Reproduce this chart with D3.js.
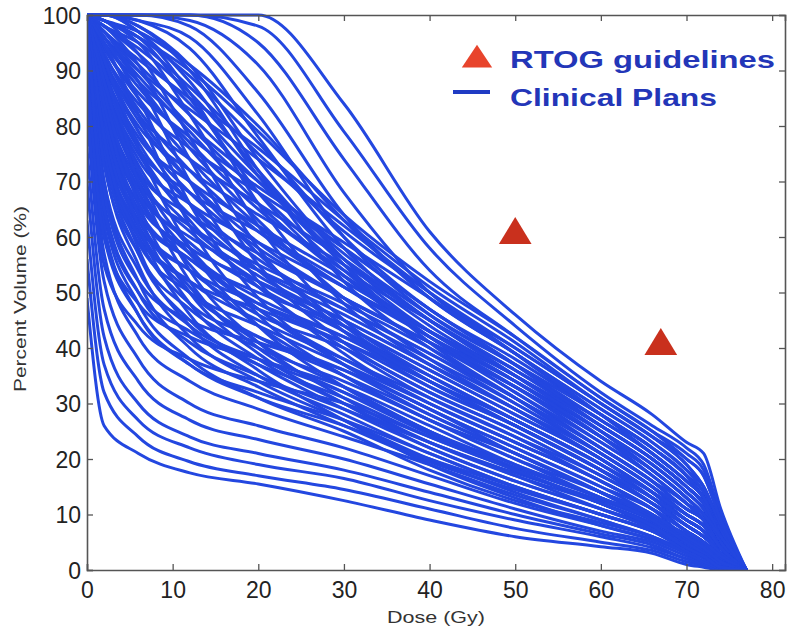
<!DOCTYPE html>
<html>
<head>
<meta charset="utf-8">
<script src="https://cdn.jsdelivr.net/npm/d3@7"></script>
<style>
  body { margin: 0; background: #fff; }
  svg { display: block; }
  text { font-family: "Liberation Sans", Arial, sans-serif; }
</style>
</head>
<body>
<div id="my_dataviz"></div>
<script>
// dose grid (Gy) shared by every DVH curve
const doses = [0, 2, 6, 12, 20, 30, 40, 50, 60, 66, 70, 72, 74, 77]

// percent volume of each clinical plan at the doses above
const plans = [
  // late falling plans (upper edge of the bundle)
  [100, 100, 100, 100, 100, 84, 61, 46, 34, 28, 23, 21, 11, 0],
  [100, 100, 100, 100, 98, 79, 58, 44, 32, 26, 22, 19, 10, 0],
  [100, 100, 100, 100, 95, 74, 54, 42, 31, 25, 21, 18, 9, 0],
  [100, 100, 100, 99, 91, 68, 50, 40, 30, 24, 20, 17, 9, 0],
  [100, 100, 100, 98, 86, 64, 49, 39, 29, 23, 18, 15, 8, 0],
  [100, 100, 99, 96, 82, 60, 46, 37, 28, 22, 17, 14, 7, 0],
  [100, 100, 99, 94, 78, 58, 45, 36, 27, 21, 16, 13, 7, 0],
  [100, 100, 98, 91, 74, 56, 44, 35, 26, 20, 15, 12, 6, 0],
  [100, 100, 97, 88, 71, 55, 43, 34, 25, 19, 14, 11, 6, 0],
  [100, 99, 96, 85, 68, 53, 42, 33, 24, 18, 13, 10, 5, 0],
  // middle of the bundle
  [100, 99, 97, 91, 80, 63, 49, 39, 29, 23, 18, 14, 7, 0],
  [100, 99, 96, 89, 77, 60, 47, 38, 28, 22, 17, 13, 7, 0],
  [100, 98, 95, 87, 75, 61, 50, 40, 30, 24, 19, 15, 8, 0],
  [100, 98, 93, 84, 71, 57, 46, 37, 28, 22, 17, 13, 7, 0],
  [100, 97, 92, 85, 76, 63, 51, 41, 30, 24, 19, 15, 8, 0],
  [100, 97, 91, 82, 70, 56, 45, 36, 27, 21, 16, 13, 6, 0],
  [100, 96, 90, 83, 74, 62, 50, 39, 28, 22, 17, 13, 7, 0],
  [100, 96, 89, 79, 66, 53, 43, 35, 26, 20, 15, 12, 6, 0],
  [100, 95, 88, 80, 70, 58, 47, 37, 27, 21, 16, 13, 6, 0],
  [100, 95, 87, 77, 65, 54, 45, 36, 26, 20, 15, 12, 6, 0],
  [100, 94, 86, 78, 69, 59, 49, 39, 28, 21, 16, 13, 6, 0],
  [100, 94, 85, 74, 62, 51, 42, 34, 25, 19, 14, 11, 5, 0],
  [100, 93, 84, 76, 68, 58, 47, 37, 26, 20, 15, 12, 6, 0],
  [100, 93, 83, 72, 61, 51, 43, 35, 26, 20, 15, 12, 6, 0],
  [100, 92, 82, 74, 66, 56, 45, 35, 25, 19, 14, 11, 5, 0],
  [100, 92, 81, 70, 59, 49, 41, 33, 24, 18, 13, 10, 5, 0],
  [100, 91, 80, 72, 64, 55, 45, 35, 25, 18, 13, 10, 5, 0],
  [100, 91, 79, 68, 58, 49, 41, 33, 24, 18, 13, 10, 5, 0],
  [100, 90, 78, 70, 62, 53, 43, 34, 24, 18, 13, 10, 5, 0],
  [100, 90, 77, 66, 56, 47, 39, 31, 22, 16, 11, 9, 4, 0],
  [100, 89, 76, 68, 61, 52, 43, 34, 24, 17, 12, 9, 4, 0],
  [100, 88, 75, 64, 54, 46, 38, 30, 21, 15, 10, 8, 4, 0],
  [100, 88, 74, 66, 59, 51, 42, 33, 23, 17, 12, 9, 4, 0],
  [100, 87, 73, 62, 53, 45, 37, 29, 20, 14, 10, 8, 4, 0],
  [100, 86, 72, 64, 57, 49, 41, 32, 22, 16, 11, 9, 4, 0],
  [100, 86, 71, 61, 52, 44, 36, 28, 20, 14, 9, 7, 3, 0],
  [100, 85, 70, 62, 55, 48, 40, 31, 22, 16, 11, 9, 4, 0],
  [100, 84, 69, 59, 51, 43, 35, 27, 19, 13, 9, 7, 3, 0],
  [100, 84, 68, 60, 54, 47, 39, 30, 21, 15, 10, 8, 4, 0],
  [100, 83, 67, 57, 49, 42, 34, 27, 19, 13, 8, 6, 3, 0],
  [100, 82, 66, 58, 52, 45, 37, 29, 20, 14, 9, 7, 3, 0],
  [100, 81, 65, 56, 48, 41, 33, 26, 18, 12, 8, 6, 3, 0],
  [100, 80, 64, 56, 50, 44, 36, 28, 20, 14, 9, 7, 3, 0],
  [100, 79, 63, 54, 46, 40, 32, 25, 17, 12, 7, 5, 2, 0],
  [100, 78, 62, 54, 48, 42, 35, 27, 19, 13, 8, 6, 3, 0],
  [100, 77, 61, 52, 45, 38, 31, 24, 16, 11, 7, 5, 2, 0],
  [100, 76, 60, 52, 47, 41, 34, 26, 18, 12, 8, 6, 3, 0],
  [100, 75, 59, 50, 44, 37, 30, 23, 16, 11, 6, 5, 2, 0],
  [100, 97, 90, 80, 68, 54, 42, 32, 23, 17, 12, 10, 6, 0],
  [100, 93, 82, 70, 57, 44, 34, 26, 18, 13, 9, 7, 4, 0],
  [100, 90, 76, 63, 51, 40, 31, 24, 17, 12, 8, 6, 3, 0],
  [100, 88, 72, 58, 47, 37, 29, 22, 15, 11, 7, 5, 3, 0],
  [100, 85, 68, 55, 44, 35, 27, 20, 14, 10, 6, 4, 2, 0],
  [100, 82, 64, 51, 41, 33, 25, 19, 13, 9, 5, 3, 1, 0],
  [100, 80, 62, 50, 42, 35, 28, 21, 14, 10, 6, 4, 2, 0],
  [100, 98, 94, 86, 72, 55, 41, 31, 21, 15, 10, 8, 4, 0],
  [100, 99, 96, 90, 79, 64, 52, 42, 31, 25, 20, 17, 9, 0],
  [100, 96, 88, 76, 63, 49, 38, 29, 20, 14, 10, 8, 4, 0],
  [100, 92, 79, 66, 54, 43, 34, 26, 18, 13, 9, 7, 3, 0],
  [100, 87, 70, 57, 47, 38, 30, 23, 16, 11, 7, 5, 2, 0],
  // slow start, steep middle (these cross the ones above)
  [100, 100, 98, 90, 72, 52, 40, 31, 22, 16, 12, 9, 4, 0],
  [100, 100, 97, 86, 66, 48, 37, 29, 21, 15, 11, 9, 4, 0],
  [100, 99, 95, 82, 62, 45, 35, 27, 19, 14, 10, 8, 4, 0],
  [100, 99, 93, 78, 58, 43, 33, 26, 18, 13, 9, 7, 3, 0],
  [100, 98, 91, 74, 55, 41, 32, 25, 17, 12, 8, 6, 3, 0],
  [100, 97, 88, 70, 52, 39, 30, 23, 16, 11, 7, 5, 2, 0],
  [100, 96, 85, 66, 49, 37, 29, 22, 15, 10, 6, 5, 2, 0],
  [100, 95, 82, 62, 46, 35, 27, 21, 14, 9, 6, 5, 2, 0],
  // lower middle
  [100, 82, 62, 46, 36, 27, 19, 13, 8, 5.5, 3.5, 2.5, 1, 0],
  [100, 78, 58, 44, 35, 28, 21, 15, 10, 7, 4.5, 3, 1, 0],
  [100, 86, 66, 50, 39, 30, 22, 16, 11, 8, 5, 4, 2, 0],
  [100, 74, 55, 42, 34, 27, 20, 14, 9, 6, 3.5, 2.5, 1, 0],
  [100, 90, 72, 54, 41, 31, 23, 17, 12, 8.5, 5.5, 4, 2, 0],
  [100, 70, 52, 40, 33, 26, 19.5, 14.5, 10, 7, 4, 3, 1, 0],
  [98, 64, 48, 38, 31, 25, 18, 12.5, 8.5, 6, 3.5, 2.5, 0.8, 0],
  [100, 84, 64, 48, 38, 30, 23, 17.5, 12.5, 9, 6, 4.5, 2, 0],
  [100, 76, 57, 45, 37, 29, 22, 16, 11, 7.5, 4.5, 3.5, 1.5, 0],
  [100, 92, 76, 58, 44, 33, 25, 18.5, 13, 9.5, 6.5, 5, 2.5, 0],
  [94, 60, 46, 37, 31, 26, 20, 15, 10, 7, 4, 3, 1, 0],
  [100, 88, 70, 52, 40, 32, 24.5, 18, 12, 8, 5, 3.5, 1.5, 0],
  // early falling plans (lower edge of the bundle)
  [49, 26, 21, 17.5, 15.5, 12.5, 9, 6, 4.2, 3, 1, 0.5, 0, 0],
  [56, 32, 24, 19.5, 17, 14.5, 11, 7.5, 5, 3.5, 1.5, 0.8, 0, 0],
  [63, 37, 27, 22, 19, 16.5, 12.5, 9, 6, 4, 2, 1, 0, 0],
  [70, 42, 30, 24, 21, 18, 14, 10, 6.5, 4.5, 2, 1, 0, 0],
  [76, 47, 34, 27, 23.5, 20, 15.5, 11, 7, 5, 2.5, 1.2, 0, 0],
  [82, 52, 38, 30, 26, 22, 17, 12, 8, 5.5, 3, 1.5, 0.3, 0],
  [88, 57, 42, 34, 29, 24, 19, 13.5, 9, 6, 3, 1.5, 0.3, 0],
  [92, 62, 46, 37, 32, 27, 21, 15, 10, 7, 3.5, 2, 0.5, 0],
  [96, 66, 50, 41, 35, 29, 23, 17, 11, 7.5, 4, 2.5, 0.8, 0],
  [100, 70, 54, 44, 38, 32, 25, 18, 12, 8, 4.5, 3, 1, 0],
  [100, 73, 57, 47, 40, 34, 27, 20, 13, 9, 5, 3, 1, 0],
  [100, 68, 52, 45, 41, 36, 29, 21, 14, 9.5, 5.5, 3.5, 1, 0],
  [90, 60, 48, 42, 38, 33, 26, 19, 13, 9, 5, 3, 1, 0],
  [100, 78, 60, 48, 42, 36, 28, 21, 14, 10, 6, 4, 1.5, 0],
  [84, 55, 44, 38, 34, 30, 24, 18, 12, 8, 4, 2.5, 0.5, 0],
  [100, 65, 50, 43, 37, 31, 24, 18, 12, 8, 4, 2.5, 0.5, 0]
]

// RTOG constraint points
const guideDose = [50, 67]
const guideVolume = [60, 40]

const xTicks = [0, 10, 20, 30, 40, 50, 60, 70, 80]
const yTicks = [0, 10, 20, 30, 40, 50, 60, 70, 80, 90, 100]
const legendLabels = ["RTOG guidelines", "Clinical Plans"]

var width = 788
var height = 631
var margin = { left: 87, right: 3, top: 15, bottom: 61 }

var svg = d3.select("#my_dataviz")
  .append("svg")
  .attr("width", width)
  .attr("height", height)

var x = d3.scaleLinear()
  .domain([0, 81.5])
  .range([margin.left, width - margin.right])

var y = d3.scaleLinear()
  .domain([0, 100])
  .range([height - margin.bottom, margin.top])

svg.append("clipPath")
  .attr("id", "plotClip")
  .append("rect")
  .attr("x", x(0))
  .attr("y", y(100) - 2)
  .attr("width", x(81.5) - x(0))
  .attr("height", y(0) - y(100) + 2)

// the curves
var line = d3.line()
  .x(function (d, i) { return x(doses[i]) })
  .y(function (d) { return y(d) })
  .curve(d3.curveMonotoneX)

svg.append("g")
  .attr("clip-path", "url(#plotClip)")
  .selectAll("path")
  .data(plans)
  .enter()
  .append("path")
  .attr("d", line)
  .style("fill", "none")
  .attr("stroke", "#2347e0")
  .attr("stroke-width", 3)
  .attr("stroke-linejoin", "round")

// frame with ticks on every side (ticks point inward)
var axisColor = "#555"
var tickLen = 6

var xAxis = svg.append("g")
  .attr("transform", "translate(0," + y(0) + ")")
  .call(d3.axisBottom(x).tickValues(xTicks).tickSize(-tickLen).tickPadding(12))
var yAxis = svg.append("g")
  .attr("transform", "translate(" + x(0) + ",0)")
  .call(d3.axisLeft(y).tickValues(yTicks).tickSize(-tickLen).tickPadding(6))
var xTop = svg.append("g")
  .attr("transform", "translate(0," + y(100) + ")")
  .call(d3.axisTop(x).tickValues(xTicks).tickSize(-tickLen).tickFormat(""))
var yRight = svg.append("g")
  .attr("transform", "translate(" + x(81.5) + ",0)")
  .call(d3.axisRight(y).tickValues(yTicks).tickSize(-tickLen).tickFormat(""))

;[xAxis, yAxis, xTop, yRight].forEach(function (g) {
  g.select(".domain").attr("stroke", axisColor).attr("stroke-width", 1.6)
  g.selectAll(".tick line").attr("stroke", axisColor).attr("stroke-width", 1.3)
  g.selectAll(".tick text")
    .attr("fill", "#222")
    .style("font-size", "23px")
    .style("font-family", "'Liberation Sans', Arial, sans-serif")
})
xAxis.selectAll(".tick text").attr("dy", "0.71em")
yAxis.selectAll(".tick text").attr("dy", "0.36em")

// axis titles
svg.append("text")
  .attr("x", 436)
  .attr("y", 623)
  .attr("text-anchor", "middle")
  .attr("fill", "#333")
  .style("font-size", "17px")
  .attr("textLength", 98)
  .attr("lengthAdjust", "spacingAndGlyphs")
  .text("Dose (Gy)")

svg.append("text")
  .attr("transform", "translate(26,299) rotate(-90)")
  .attr("text-anchor", "middle")
  .attr("fill", "#333")
  .style("font-size", "16px")
  .attr("textLength", 186)
  .attr("lengthAdjust", "spacingAndGlyphs")
  .text("Percent Volume (%)")

// RTOG points
var tri = d3.symbol().type(d3.symbolTriangle).size(420)

svg.append("g")
  .selectAll("path")
  .data(guideDose)
  .enter()
  .append("path")
  .attr("d", tri)
  .attr("transform", function (d, i) {
    return "translate(" + x(d) + "," + (y(guideVolume[i]) - 2) + ") scale(1.05,1)"
  })
  .attr("fill", "#c9301d")

// legend
var legend = svg.append("g")
legend.append("path")
  .attr("d", d3.symbol().type(d3.symbolTriangle).size(330))
  .attr("transform", "translate(477,60) scale(1.1,0.95)")
  .attr("fill", "#e8442c")
legend.append("line")
  .attr("x1", 453).attr("x2", 490)
  .attr("y1", 92).attr("y2", 92)
  .attr("stroke", "#1f3bc4")
  .attr("stroke-width", 4)

legend.selectAll("text")
  .data(legendLabels)
  .enter()
  .append("text")
  .attr("x", 510)
  .attr("y", function (d, i) { return i === 0 ? 68 : 106 })
  .attr("fill", "#2336b8")
  .style("font-size", "24px")
  .style("font-weight", "bold")
  .attr("textLength", function (d, i) { return i === 0 ? 265 : 207 })
  .attr("lengthAdjust", "spacingAndGlyphs")
  .text(function (d) { return d })
</script>
</body>
</html>
